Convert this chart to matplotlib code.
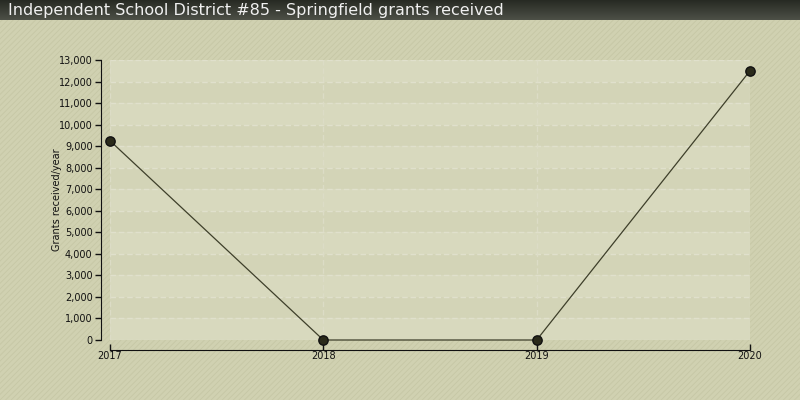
import matplotlib
matplotlib.use("Agg")
import matplotlib.pyplot as plt
import numpy as np
from matplotlib.patches import Rectangle
from matplotlib.colors import LinearSegmentedColormap

years = [2017, 2018, 2019, 2020]
grants = [9250, 0, 0, 12500]
yticks = list(range(0, 14000, 1000))
title = "Independent School District #85 - Springfield grants received"
ylabel = "Grants received/year"

W, H = 800, 400
plt.rcParams['hatch.linewidth'] = 0.6
fig = plt.figure(figsize=(8, 4), dpi=100)
fig.patch.set_facecolor("#cfd0b0")

# hatched background
bg = Rectangle((0, 0), 1, 1, transform=fig.transFigure, facecolor="#d0d1b1",
               edgecolor="#c6c7a5", hatch="//////", linewidth=0, zorder=-10)
fig.patches.append(bg)

# title bar gradient
tb = fig.add_axes([0, 1 - 20 / H, 1, 20 / H])
grad = np.linspace(0, 1, 50).reshape(-1, 1)
cmap = LinearSegmentedColormap.from_list("tb", ["#272a23", "#4d5047"])
tb.imshow(grad, aspect="auto", cmap=cmap, extent=[0, 1, 0, 1], origin="upper")
tb.set_axis_off()
tb.text(0.01, 0.45, title, color="#f0f0f0", fontsize=11.5, va="center", ha="left",
        family="DejaVu Sans", transform=tb.transAxes)

x0, x1, y0, y1 = 110, 750, 340, 60
ax = fig.add_axes([x0 / W, (H - y0) / H, (x1 - x0) / W, (y0 - y1) / H])
ax.set_facecolor("none")
ax.set_xlim(years[0], years[-1])
ax.set_ylim(0, 13000)

# alternating bands
for i, v in enumerate(yticks[:-1]):
    col = "#d8d9be" if i % 2 == 0 else "#d3d4b7"
    ax.axhspan(v, v + 1000, facecolor=col, edgecolor="none", zorder=0)
for v in yticks:
    ax.axhline(v, color="#e0e0cc", lw=1, ls=(0, (4, 2)), zorder=1)
for x in years:
    ax.axvline(x, color="#dcdcc6", lw=1, ls=(0, (4, 2)), zorder=1)

ax.plot(years, grants, color="#3e3f2a", lw=0.9, zorder=3, clip_on=False)
ax.scatter(years, grants, s=45, color="#2a2a1a", edgecolor="#111111", linewidth=1,
           zorder=4, clip_on=False)

for s in ["top", "right"]:
    ax.spines[s].set_visible(False)
ax.spines["left"].set_position(("outward", 6.5))
ax.spines["bottom"].set_position(("outward", 7.2))
ax.spines["left"].set_color("#111111")
ax.spines["bottom"].set_color("#111111")
ax.set_yticks(yticks)
ax.set_yticklabels([f"{v:,}" for v in yticks], fontsize=7, color="#111111")
ax.set_xticks(years)
ax.set_xticklabels([str(y) for y in years], fontsize=7, color="#111111")
ax.tick_params(axis="y", direction="out", length=4, width=1, color="#111111", pad=2)
ax.tick_params(axis="x", direction="in", length=4, width=1, color="#111111", pad=1)
ax.set_ylabel(ylabel, fontsize=7, color="#111111")
ax.yaxis.set_label_coords((62 - x0) / (x1 - x0), 0.5)

fig.savefig("out.png", dpi=100)
